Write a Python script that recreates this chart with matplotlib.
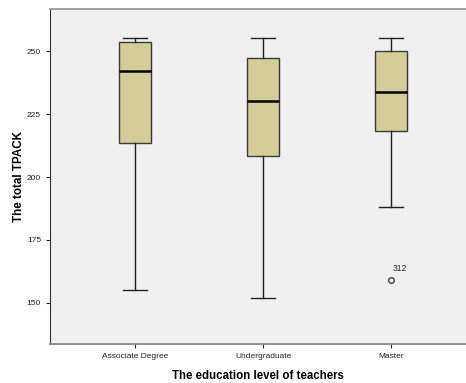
import matplotlib
matplotlib.use("Agg")
import matplotlib.pyplot as plt

plt.rcParams["font.family"] = ["Liberation Sans", "DejaVu Sans"]

# Five-number summaries for each education level
categories = ["Associate Degree", "Undergraduate", "Master"]
whisker_low = [155.0, 152.0, 188.0]
q1 = [213.6, 208.2, 218.1]
median = [242.1, 230.3, 233.6]
q3 = [253.7, 247.1, 250.1]
whisker_high = [255.2, 255.0, 255.0]
outlier_values = [[], [], [159.0]]
outlier_labels = [[], [], ["312"]]

y_ticks = [150, 175, 200, 225, 250]

stats = []
for i, name in enumerate(categories):
    stats.append({
        "label": name,
        "whislo": whisker_low[i],
        "q1": q1[i],
        "med": median[i],
        "q3": q3[i],
        "whishi": whisker_high[i],
        "fliers": outlier_values[i],
    })

fig = plt.figure(figsize=(4.66, 3.83), dpi=100)
ax = fig.add_axes([50 / 466, 39 / 383, 416 / 466, 335 / 383])
ax.set_facecolor("#f0f0f0")

ax.bxp(
    stats,
    positions=[1, 2, 3],
    widths=0.25,
    patch_artist=True,
    boxprops=dict(facecolor="#d3ce97", edgecolor="#3a3a3a", linewidth=1.0),
    medianprops=dict(color="black", linewidth=1.8),
    whiskerprops=dict(color="#222222", linewidth=1.0),
    capprops=dict(color="#222222", linewidth=1.0),
    capwidths=0.19,
    flierprops=dict(marker="o", markerfacecolor="none", markeredgecolor="#333333",
                    markersize=4, markeredgewidth=0.9),
)

for i, (vals, labs) in enumerate(zip(outlier_values, outlier_labels)):
    for v, lab in zip(vals, labs):
        ax.annotate(lab, (i + 1, v), xytext=(1.5, 5), textcoords="offset points",
                    fontsize=6.2, color="#222222", ha="left", va="bottom")

ax.set_xlim(0.333, 3.587)
ax.set_ylim(133.7, 266.7)
ax.set_yticks(y_ticks)
ax.set_xticks([1, 2, 3])
ax.set_xticklabels(categories)
ax.tick_params(axis="both", labelsize=6.0, colors="#222222", length=3, width=0.8)

ax.spines["right"].set_visible(False)
ax.spines["left"].set_color("#333333")
ax.spines["bottom"].set_color("#888888")
ax.spines["top"].set_color("#999999")
ax.spines["bottom"].set_linewidth(1.3)
ax.spines["top"].set_linewidth(1.3)

ax.set_xlabel("The education level of teachers", fontsize=8.3, fontweight="bold", labelpad=7)
ax.set_ylabel("The total TPACK", fontsize=8.4, fontweight="bold", labelpad=1)

fig.savefig("out.png", dpi=100)
